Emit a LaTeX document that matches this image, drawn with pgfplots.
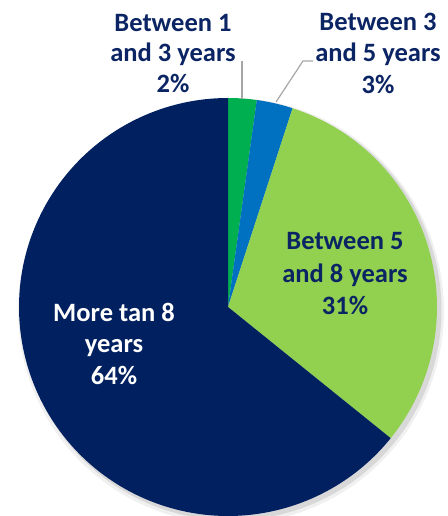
\documentclass[border=0pt]{standalone}
\usepackage{fontspec}
\setmainfont{Carlito}
\usepackage{pgfplots}
\pgfplotsset{compat=1.18}
\definecolor{cGreen}{HTML}{00B050}
\definecolor{cBlue}{HTML}{0070C0}
\definecolor{cLight}{HTML}{92D050}
\definecolor{cNavy}{HTML}{002060}
\definecolor{cText}{HTML}{0B2463}
\definecolor{cLead}{HTML}{A6A6A6}
% shares (percent), clockwise from 12 o'clock
\def\pA{2.2}\def\pB{2.8}\def\pC{30.8}\def\pD{64.2}
\pgfmathsetmacro\aA{90}
\pgfmathsetmacro\aB{\aA-3.6*\pA}
\pgfmathsetmacro\aC{\aB-3.6*\pB}
\pgfmathsetmacro\aD{\aC-3.6*\pC}
\pgfmathsetmacro\aE{\aD-3.6*\pD}
\def\cx{228}\def\cy{209}\def\R{209}
\begin{document}
\begin{tikzpicture}
\begin{axis}[
  scale only axis, width=447pt, height=516pt,
  xmin=0, xmax=447, ymin=0, ymax=516,
  hide axis, clip=true,
]
% soft shadow
\addplot[fill=black, opacity=0.06, draw=none, domain=0:360, samples=120] ({\cx+3+(\R+4)*cos(x)},{\cy-4+(\R+4)*sin(x)});
\addplot[fill=black, opacity=0.10, draw=none, domain=0:360, samples=120] ({\cx+3+(\R+1.5)*cos(x)},{\cy-3+(\R+1.5)*sin(x)});
% wedges
\addplot[fill=cGreen, draw=none, domain=\aB:\aA, samples=20] ({\cx+\R*cos(x)},{\cy+\R*sin(x)}) -- (axis cs:\cx,\cy) -- cycle;
\addplot[fill=cBlue, draw=none, domain=\aC:\aB, samples=20] ({\cx+\R*cos(x)},{\cy+\R*sin(x)}) -- (axis cs:\cx,\cy) -- cycle;
\addplot[fill=cLight, draw=none, domain=\aD:\aC, samples=80] ({\cx+\R*cos(x)},{\cy+\R*sin(x)}) -- (axis cs:\cx,\cy) -- cycle;
\addplot[fill=cNavy, draw=none, domain=\aE:\aD, samples=150] ({\cx+\R*cos(x)},{\cy+\R*sin(x)}) -- (axis cs:\cx,\cy) -- cycle;
% leader lines
\addplot[cLead, line width=1.2pt] coordinates {(242,455) (242,417)};
\addplot[cLead, line width=1.2pt] coordinates {(313,455) (303,455) (276,414)};
% labels
\tikzset{lbl/.style={anchor=base, font=\fontsize{26.5}{32}\selectfont\bfseries, inner sep=0pt}}
\node[lbl, text=cText] at (axis cs:173,484) {Between 1};
\node[lbl, text=cText] at (axis cs:173,454) {and 3 years};
\node[lbl, text=cText] at (axis cs:173,423) {2\%};
\node[lbl, text=cText] at (axis cs:378,485) {Between 3};
\node[lbl, text=cText] at (axis cs:378,454) {and 5 years};
\node[lbl, text=cText] at (axis cs:378,422) {3\%};
\node[lbl, text=cText] at (axis cs:345,266) {Between 5};
\node[lbl, text=cText] at (axis cs:345,233) {and 8 years};
\node[lbl, text=cText] at (axis cs:345,201) {31\%};
\node[lbl, text=white] at (axis cs:114,194) {More tan 8};
\node[lbl, text=white] at (axis cs:114,163) {years};
\node[lbl, text=white] at (axis cs:114,131) {64\%};
\end{axis}
\pgfresetboundingbox
\path (current axis.south west) rectangle (current axis.north east);
\end{tikzpicture}
\end{document}
